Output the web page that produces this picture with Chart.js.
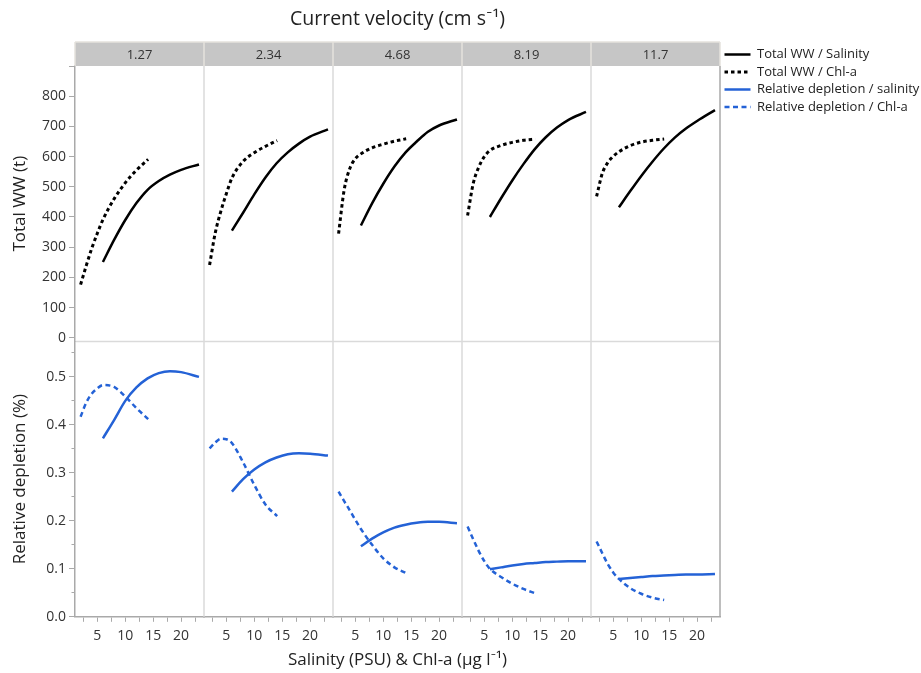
<!DOCTYPE html>
<html><head><meta charset="utf-8">
<script src="https://cdn.jsdelivr.net/npm/chart.js@4/dist/chart.umd.min.js"></script>
<style>html,body{margin:0;padding:0;background:#fff;}canvas{display:block;}</style>
</head><body>
<canvas id="c" width="921" height="673"></canvas>
<script>
// ---------- data ----------
const velocities = ['1.27', '2.34', '4.68', '8.19', '11.7'];
const salinityX = [6, 8, 10, 12, 14, 16, 18, 20, 23.2];
const chlaX = [2, 3, 4, 5, 6, 8, 10, 12, 14.1];
const wwSalinity = [
  [251, 324, 390, 446, 490, 519, 540, 556, 574],
  [355, 414, 475, 531, 578, 614, 643, 666, 690],
  [372, 445, 510, 567, 614, 650, 682, 703, 723],
  [400, 462, 521, 575, 624, 664, 696, 721, 748],
  [432, 485, 536, 583, 626, 663, 693, 718, 754]
];
const wwChla = [
  [176, 238, 296, 346, 391, 460, 513, 555, 591],
  [241, 346, 418, 477, 529, 584, 613, 634, 653],
  [345, 490, 560, 593, 609, 629, 641, 651, 659],
  [405, 510, 565, 600, 620, 637, 647, 654, 658],
  [468, 543, 580, 601, 616, 636, 648, 654, 658]
];
const depSalinity = [
  [0.372, 0.410, 0.450, 0.478, 0.497, 0.508, 0.512, 0.510, 0.500],
  [0.261, 0.287, 0.307, 0.322, 0.332, 0.339, 0.341, 0.340, 0.336],
  [0.147, 0.163, 0.176, 0.186, 0.192, 0.196, 0.198, 0.198, 0.195],
  [0.099, 0.103, 0.107, 0.110, 0.112, 0.114, 0.115, 0.116, 0.116],
  [0.079, 0.081, 0.083, 0.085, 0.086, 0.087, 0.088, 0.088, 0.089]
];
const depChla = [
  [0.417, 0.446, 0.465, 0.476, 0.483, 0.479, 0.459, 0.435, 0.412],
  [0.351, 0.363, 0.371, 0.370, 0.362, 0.322, 0.275, 0.234, 0.210],
  [0.261, 0.241, 0.222, 0.202, 0.183, 0.150, 0.122, 0.103, 0.091],
  [0.188, 0.162, 0.137, 0.116, 0.100, 0.083, 0.069, 0.058, 0.049],
  [0.157, 0.133, 0.110, 0.092, 0.079, 0.060, 0.048, 0.040, 0.035]
];
const seriesNames = ['Total WW / Salinity', 'Total WW / Chl-a', 'Relative depletion / salinity', 'Relative depletion / Chl-a'];
const xTickValues = [2.5, 5, 7.5, 10, 12.5, 15, 17.5, 20, 22.5];
const xTickLabels = ['', '5', '', '10', '', '15', '', '20', ''];
const wwTickValues = [0, 100, 200, 300, 400, 500, 600, 700, 800, 900];
const wwTickLabels = ['0', '100', '200', '300', '400', '500', '600', '700', '800', ''];
const depTickValues = [0, 0.05, 0.1, 0.15, 0.2, 0.25, 0.3, 0.35, 0.4, 0.45, 0.5, 0.55];
const depTickLabels = ['0.0', '', '0.1', '', '0.2', '', '0.3', '', '0.4', '', '0.5', ''];
const chartTitle = 'Current velocity (cm s⁻¹)';
const xTitle = 'Salinity (PSU) & Chl-a (μg l⁻¹)';
const yTopTitle = 'Total WW (t)';
const yBotTitle = 'Relative depletion (%)';

// ---------- styles ----------
const FONT = '"Open Sans", Lato, sans-serif';
Chart.defaults.font.family = FONT;
const BLUE = '#2462d6';
const AXIS = '#a9a9a9';
const DIV = '#dadada';
const LEGEND_W = 201;
const STRIP_H = 24;

function mk(label, xs, ys, xid, yid, color, dash, w) {
  return {
    label, data: xs.map((x, k) => ({x, y: ys[k]})),
    xAxisID: xid, yAxisID: yid,
    borderColor: color, backgroundColor: color, borderDash: dash, borderWidth: w,
    borderCapStyle: 'butt', pointRadius: 0, pointHoverRadius: 0, pointStyle: 'line',
    cubicInterpolationMode: 'monotone', fill: false
  };
}
const datasets = [];
velocities.forEach((v, i) => {
  datasets.push(mk(seriesNames[0], salinityX, wwSalinity[i], 'x' + i, 'yTop', '#000', [], 2.5));
  datasets.push(mk(seriesNames[1], chlaX, wwChla[i], 'x' + i, 'yTop', '#000', [3.5, 3], 3));
  datasets.push(mk(seriesNames[2], salinityX, depSalinity[i], 'x' + i, 'yBot', BLUE, [], 2.5));
  datasets.push(mk(seriesNames[3], chlaX, depChla[i], 'x' + i, 'yBot', BLUE, [5, 3.5], 2.5));
});

const scales = {};
velocities.forEach((v, i) => {
  scales['x' + i] = {
    type: 'linear', position: 'bottom', stack: 'cols', stackWeight: 1,
    min: 1, max: 24.1,
    afterBuildTicks: s => { s.ticks = xTickValues.map(value => ({value})); },
    afterFit: s => { s.height = 33; },
    ticks: { autoSkip: false, maxRotation: 0, minRotation: 0, padding: 6, color: '#333', font: {size: 14},
             callback: (val, idx) => xTickLabels[idx] },
    grid: { display: true, drawOnChartArea: false, drawTicks: true, tickLength: 5, tickColor: AXIS, tickWidth: 1 },
    border: { display: true, color: AXIS, width: 1.5 }
  };
});
scales.yBot = {
  type: 'linear', position: 'left', stack: 'rows', stackWeight: 1,
  min: 0, max: 0.574,
  afterBuildTicks: s => { s.ticks = depTickValues.map(value => ({value})); },
  afterFit: s => { s.width = 75; },
  ticks: { autoSkip: false, padding: 3, color: '#333', font: {size: 14}, callback: (val, idx) => depTickLabels[idx] },
  grid: { display: true, drawOnChartArea: false, drawTicks: true, tickLength: 6, tickColor: AXIS, tickWidth: 1,
          tickBorderDash: ctx => (ctx.index % 2 === 1 ? [0, 2.5, 10, 0] : []) },
  border: { display: true, color: AXIS, width: 1.5 },
  title: { display: true, text: yBotTitle, color: '#222', font: {size: 17}, padding: {top: 10, bottom: 0} }
};
scales.yTop = {
  type: 'linear', position: 'left', stack: 'rows', stackWeight: 1,
  min: -12, max: 900,
  afterBuildTicks: s => { s.ticks = wwTickValues.map(value => ({value})); },
  afterFit: s => { s.width = 75; },
  ticks: { autoSkip: false, padding: 3, color: '#333', font: {size: 14}, callback: (val, idx) => wwTickLabels[idx] },
  grid: { display: true, drawOnChartArea: false, drawTicks: true, tickLength: 6, tickColor: AXIS, tickWidth: 1 },
  border: { display: true, color: AXIS, width: 1.5 },
  title: { display: true, text: yTopTitle, color: '#222', font: {size: 17}, padding: {top: 10, bottom: 0} }
};

// keep the right-hand legend column at a fixed width
const legendWidthPlugin = {
  id: 'legendWidth',
  beforeLayout(chart) {
    const lg = chart.legend;
    if (lg && !lg.__fixedWidth) {
      const orig = lg.fit;
      lg.fit = function() { orig.call(this); this.width = LEGEND_W; };
      lg.__fixedWidth = true;
    }
  }
};

const framePlugin = {
  id: 'frames',
  beforeDatasetsDraw(chart) {
    const {ctx, chartArea: ca} = chart;
    ctx.save();
    ctx.lineWidth = 1.5;
    velocities.forEach((v, i) => {
      const s = chart.scales['x' + i];
      ctx.strokeStyle = i === velocities.length - 1 ? AXIS : DIV;
      ctx.beginPath(); ctx.moveTo(s.right, ca.top); ctx.lineTo(s.right, ca.bottom); ctx.stroke();
    });
    const yt = chart.scales.yTop;
    ctx.strokeStyle = DIV;
    ctx.beginPath(); ctx.moveTo(ca.left + 1, yt.bottom); ctx.lineTo(ca.right - 1, yt.bottom); ctx.stroke();
    ctx.restore();
  },
  afterDraw(chart) {
    const {ctx, chartArea: ca} = chart;
    ctx.save();
    velocities.forEach((v, i) => {
      const s = chart.scales['x' + i];
      ctx.fillStyle = '#c6c6c6';
      ctx.fillRect(s.left, ca.top - STRIP_H, s.right - s.left, STRIP_H);
      ctx.fillStyle = '#333';
      ctx.font = '13px ' + FONT;
      ctx.textAlign = 'center'; ctx.textBaseline = 'middle';
      ctx.fillText(v, (s.left + s.right) / 2, ca.top - STRIP_H / 2 + 1);
    });
    ctx.strokeStyle = '#e4e2dc'; ctx.lineWidth = 1.5;
    velocities.forEach((v, i) => {
      const s = chart.scales['x' + i];
      ctx.beginPath(); ctx.moveTo(s.left, ca.top - STRIP_H); ctx.lineTo(s.left, ca.top); ctx.stroke();
      if (i === velocities.length - 1) { ctx.beginPath(); ctx.moveTo(s.right, ca.top - STRIP_H); ctx.lineTo(s.right, ca.top); ctx.stroke(); }
    });
    ctx.beginPath(); ctx.moveTo(ca.left, ca.top - STRIP_H); ctx.lineTo(ca.right, ca.top - STRIP_H); ctx.stroke();
    ctx.restore();
  }
};

new Chart(document.getElementById('c'), {
  type: 'line',
  data: { datasets },
  options: {
    responsive: false, animation: false, devicePixelRatio: 1, events: [],
    layout: { padding: {top: 0, left: 0, bottom: 0, right: 0} },
    scales,
    plugins: {
      tooltip: {enabled: false},
      title: { display: true, fullSize: false, text: chartTitle, color: '#222', font: {size: 19.5, weight: 'normal'}, padding: {top: 8, bottom: 34.6} },
      subtitle: { display: true, position: 'bottom', fullSize: false, text: xTitle, color: '#222', font: {size: 17, weight: 'normal'}, padding: {top: 0, bottom: 2.8} },
      legend: {
        display: true, position: 'right', align: 'start', fullSize: true,
        title: { display: true, text: ' ', font: {size: 10}, padding: {top: 31.5, bottom: 0} },
        labels: {
          usePointStyle: true, pointStyleWidth: 26, padding: 4.5, color: '#222', font: {size: 13},
          generateLabels: chart => chart.data.datasets.slice(0, seriesNames.length).map((ds, k) => ({
            text: ds.label, fillStyle: ds.borderColor, strokeStyle: ds.borderColor,
            lineWidth: ds.borderWidth, lineDash: ds.borderDash, lineCap: 'butt', pointStyle: 'line',
            fontColor: '#222', hidden: false, datasetIndex: k, textAlign: 'left'
          }))
        }
      }
    }
  },
  plugins: [legendWidthPlugin, framePlugin]
});
</script>
</body></html>
